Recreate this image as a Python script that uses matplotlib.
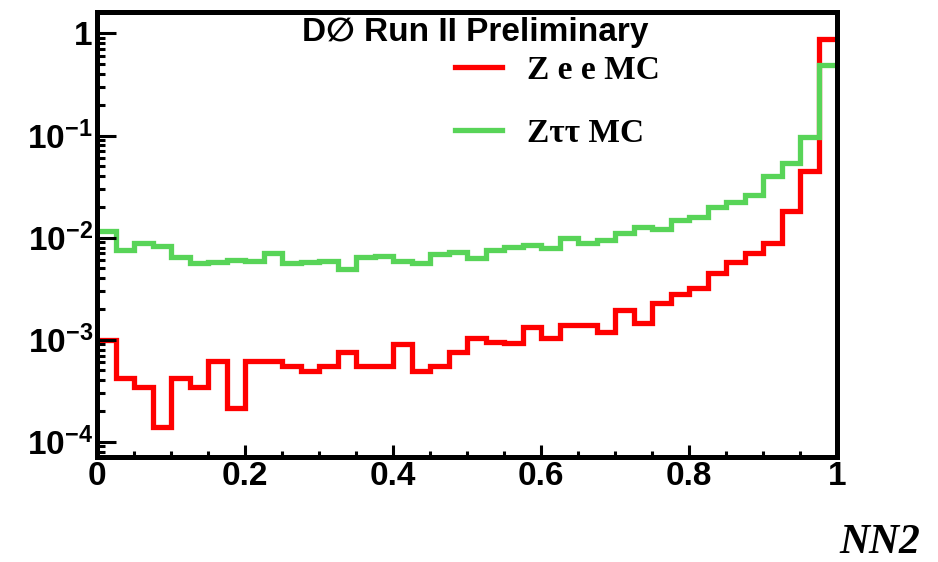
import matplotlib
matplotlib.use('Agg')

import numpy as np
import matplotlib.pyplot as plt
from matplotlib.ticker import FixedLocator, LogLocator, FuncFormatter, NullFormatter

plt.rcParams['font.family'] = ['Liberation Sans', 'DejaVu Sans']
plt.rcParams['mathtext.fontset'] = 'custom'
plt.rcParams['mathtext.default'] = 'bf'
plt.rcParams['mathtext.bf'] = 'Liberation Sans:bold'
plt.rcParams['mathtext.rm'] = 'Liberation Sans:bold'

# NN2 output, 40 bins from 0 to 1, normalised
bin_edges = np.linspace(0.0, 1.0, 41)

zee_mc = [1.00e-3, 4.2e-4, 3.45e-4, 1.40e-4, 4.2e-4, 3.45e-4, 6.2e-4, 2.15e-4,
          6.2e-4, 6.2e-4, 5.5e-4, 4.9e-4, 5.5e-4, 7.6e-4, 5.5e-4, 5.5e-4,
          9.1e-4, 4.9e-4, 5.5e-4, 7.6e-4, 1.04e-3, 9.5e-4, 9.3e-4, 1.33e-3,
          1.04e-3, 1.40e-3, 1.40e-3, 1.19e-3, 1.96e-3, 1.46e-3, 2.29e-3, 2.81e-3,
          3.22e-3, 4.51e-3, 5.78e-3, 7.08e-3, 8.88e-3, 1.83e-2, 4.50e-2, 0.88]

ztt_mc = [1.16e-2, 7.6e-3, 8.9e-3, 8.3e-3, 6.5e-3, 5.65e-3, 5.8e-3, 6.05e-3,
          5.9e-3, 7.1e-3, 5.65e-3, 5.8e-3, 5.9e-3, 4.9e-3, 6.5e-3, 6.6e-3,
          5.9e-3, 5.65e-3, 6.9e-3, 7.2e-3, 6.3e-3, 7.6e-3, 8.1e-3, 8.5e-3,
          7.9e-3, 9.9e-3, 8.9e-3, 9.5e-3, 1.11e-2, 1.27e-2, 1.22e-2, 1.49e-2,
          1.59e-2, 2.00e-2, 2.24e-2, 2.62e-2, 4.02e-2, 5.39e-2, 9.7e-2, 0.49]

x_ticks = [0.0, 0.2, 0.4, 0.6, 0.8, 1.0]
y_ticks = [1e-4, 1e-3, 1e-2, 1e-1, 1.0]

W, H = 938, 562
fig = plt.figure(figsize=(W / 100, H / 100), dpi=100)
fig.patch.set_facecolor('white')
ax = fig.add_axes([97 / W, 1 - 457 / H, (837 - 97) / W, (457 - 11.5) / H])

red_line = ax.stairs(zee_mc, bin_edges, baseline=None, color='#ff0000', linewidth=3.8)
green_line = ax.stairs(ztt_mc, bin_edges, baseline=None, color='#58d458', linewidth=3.8)

ax.set_yscale('log')
ax.set_xlim(0, 1)
ax.set_ylim(7.1e-5, 1.64)

for s in ax.spines.values():
    s.set_linewidth(3.6)

ax.xaxis.set_major_locator(FixedLocator(x_ticks))
ax.xaxis.set_minor_locator(FixedLocator(np.arange(0.05, 1.0, 0.05)))
ax.xaxis.set_major_formatter(FuncFormatter(lambda v, p: '%g' % v if v in (0, 1) else '%.1f' % v))
ax.yaxis.set_major_locator(FixedLocator(y_ticks))
ax.yaxis.set_minor_locator(LogLocator(base=10, subs=np.arange(2, 10)))
ax.yaxis.set_minor_formatter(NullFormatter())
ax.yaxis.set_major_formatter(FuncFormatter(
    lambda v, p: '1' if v == 1 else r'$10^{%d}$' % round(np.log10(v))))

ax.tick_params(axis='both', which='both', direction='in', width=2.2,
               top=False, right=False)
ax.tick_params(axis='x', which='major', length=9, pad=3)
ax.tick_params(axis='x', which='minor', length=4.5)
ax.tick_params(axis='y', which='major', length=14, pad=3)
ax.tick_params(axis='y', which='minor', length=6)
for lab in ax.get_xticklabels() + ax.get_yticklabels():
    lab.set_fontsize(24)
    lab.set_fontweight('bold')

fig.text(475 / W, 1 - 33 / H, 'D\u2205 Run II Preliminary', ha='center', va='center',
         fontsize=24, fontweight='bold', family=['Liberation Sans', 'DejaVu Sans'])

ax.legend([red_line, green_line], ['Z e e MC', 'Z\u03c4\u03c4 MC'],
          loc='upper left', bbox_to_anchor=(455 / W, 1 - 55 / H),
          bbox_transform=fig.transFigure, frameon=False,
          prop={'family': 'Liberation Serif', 'weight': 'bold', 'size': 24},
          handlelength=1.4, handletextpad=0.75, labelspacing=0.95,
          borderpad=0, borderaxespad=0)

fig.text(880 / W, 1 - 543 / H, 'NN2', ha='center', va='center', fontsize=30,
         style='italic', fontweight='bold', family='Liberation Serif')

fig.savefig('out.png', dpi=100, facecolor=fig.get_facecolor())
